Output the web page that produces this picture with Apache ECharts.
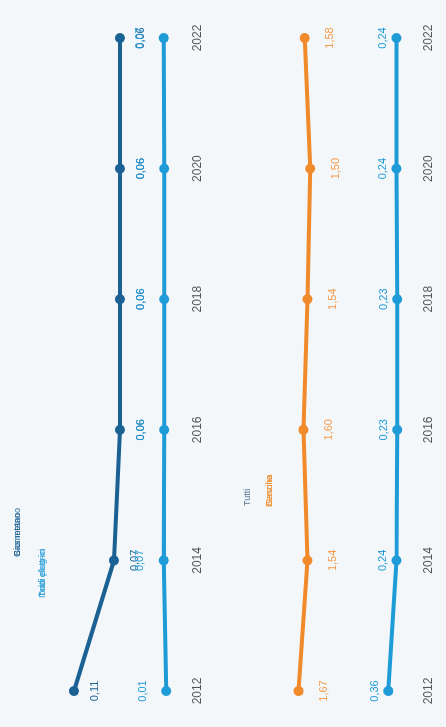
<!DOCTYPE html>
<html>
<head>
<meta charset="utf-8">
<script src="https://cdn.jsdelivr.net/npm/echarts@6/dist/echarts.min.js"></script>
<style>
  html, body { margin: 0; padding: 0; width: 446px; height: 727px; overflow: hidden; background: #f4f7f9; }
  #chart { position: absolute; left: 0; top: 0; width: 727px; height: 446px;
           transform-origin: 0 0; transform: translateY(727px) rotate(-90deg); }
</style>
</head>
<body>
<div id="chart"></div>
<script>
// ---- data ----
const years = ['2012', '2014', '2016', '2018', '2020', '2022'];
const topDarkValues = [0.11, 0.07, 0.064, 0.064, 0.064, 0.064];
const topLightValues = [0.01, 0.07, 0.06, 0.06, 0.06, 0.07];
const bottomOrangeValues = [1.67, 1.54, 1.60, 1.54, 1.50, 1.58];
const bottomLightValues = [0.36, 0.24, 0.23, 0.23, 0.24, 0.24];
const topDarkNames = ['Gas metano', 'Biometano'];
const topLightNames = ['Ibridi plug-in', 'Tutti elettrici'];
const bottomSlateName = 'Tutti';
const bottomOrangeNames = ['Benzina', 'Gasolio'];

const C_DARK = '#1b6193';
const C_LIGHT = '#1f9bd7';
const C_ORANGE = '#f08a2a';
const C_SLATE = '#4f6f8f';

const fmt = p => Number(p.value).toFixed(2).replace('.', ',');

function xAxis(gridIndex, margin) {
  return {
    type: 'category', gridIndex, data: years, boundaryGap: false,
    axisLine: { show: false }, axisTick: { show: false }, splitLine: { show: false },
    axisLabel: { color: '#555', fontSize: 12, margin, fontFamily: 'Liberation Sans, Arial, sans-serif' }
  };
}
function line(name, data, xi, yi, color, pos, dist, labelColor) {
  return {
    name, type: 'line', data, xAxisIndex: xi, yAxisIndex: yi,
    symbol: 'circle', symbolSize: 10,
    lineStyle: { width: 4, color }, itemStyle: { color },
    label: { show: true, position: pos, distance: dist, formatter: fmt,
             color: labelColor || color, fontSize: 11, fontFamily: 'Liberation Sans, Arial, sans-serif' },
    emphasis: { disabled: true }, animation: false
  };
}
function txt(text, left, top, fill) {
  return { type: 'text', left, top,
           style: { text, fill, font: '9px "Liberation Sans", Arial, sans-serif' } };
}

const chart = echarts.init(document.getElementById('chart'), null, { renderer: 'canvas' });
chart.setOption({
  backgroundColor: '#f4f7f9',
  animation: false,
  grid: [
    { left: 36, right: 38, top: 64, height: 120 },
    { left: 36, right: 38, top: 276, height: 137 }
  ],
  xAxis: [xAxis(0, 8), xAxis(1, 10)],
  yAxis: [
    { type: 'value', gridIndex: 0, min: 0, max: 0.12, show: false },
    { type: 'value', gridIndex: 0, min: -0.435, max: 2.565, show: false },
    { type: 'value', gridIndex: 1, min: 0, max: 2, show: false }
  ],
  series: [
    line(topDarkNames[0], topDarkValues, 0, 0, C_DARK, 'bottom', 10),
    line(topLightNames[0], topLightValues, 0, 1, C_LIGHT, 'top', 13),
    line(bottomOrangeNames[0], bottomOrangeValues, 1, 2, C_ORANGE, 'bottom', 15, '#f39a4a'),
    line(bottomSlateName, bottomLightValues, 1, 2, C_LIGHT, 'top', 3)
  ],
  graphic: [
    txt(topDarkNames[0], 170, 13, C_DARK),
    txt(topDarkNames[1], 171, 13, C_DARK),
    txt(topLightNames[0], 129, 38, C_LIGHT),
    txt(topLightNames[1], 130, 38, C_LIGHT),
    txt(bottomSlateName, 221, 243, C_SLATE),
    txt(bottomOrangeNames[0], 220, 265, C_ORANGE),
    txt(bottomOrangeNames[1], 221, 265, C_ORANGE)
  ]
});
</script>
</body>
</html>
